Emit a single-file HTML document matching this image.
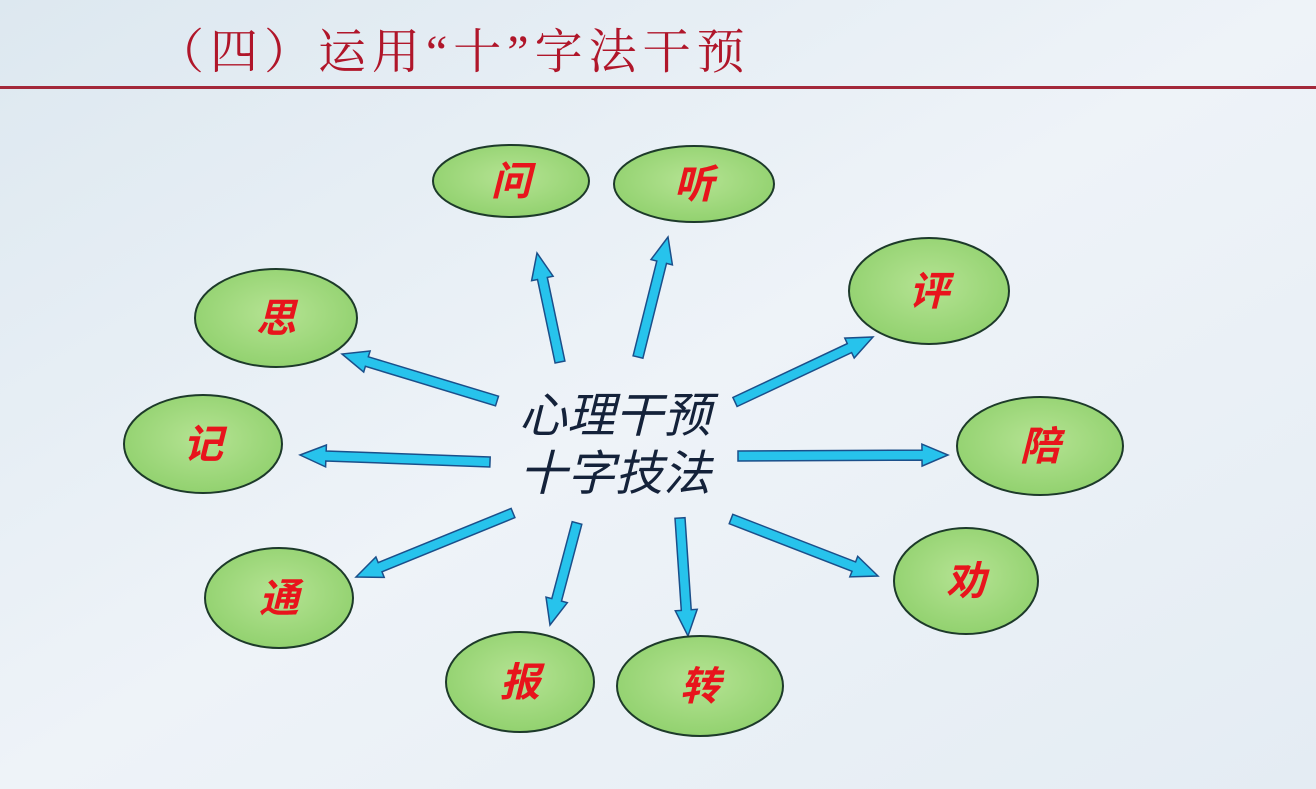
<!DOCTYPE html>
<html><head><meta charset="utf-8"><style>
html,body{margin:0;padding:0;width:1316px;height:789px;overflow:hidden;background:#e8eff6}
svg{display:block}
</style></head><body>
<svg id="s" width="1316" height="789" xmlns="http://www.w3.org/2000/svg">
<defs>
<linearGradient id="bg" x1="0" y1="0" x2="1" y2="1"><stop offset="0" stop-color="#dde8f0"/><stop offset="0.5" stop-color="#eef3f8"/><stop offset="1" stop-color="#e4ecf3"/></linearGradient>
<radialGradient id="g" cx="0.5" cy="0.45" r="0.6"><stop offset="0" stop-color="#b5e393"/><stop offset="1" stop-color="#8fd06c"/></radialGradient>
</defs>
<rect width="1316" height="789" fill="url(#bg)"/>
<text x="156" y="68" font-family="'Liberation Serif','Noto Serif CJK SC',serif" font-size="48" letter-spacing="6" fill="#b0162a">（四）运用“十”字法干预</text>
<rect x="0" y="86" width="1316" height="3" fill="#a3283a"/>
<g id="arrows"></g>
<g id="nodes" font-family="'Liberation Sans','Noto Sans CJK SC',sans-serif" font-size="40" font-style="italic" font-weight="bold" fill="#e8141c" text-anchor="middle"></g>
<g font-family="'Liberation Sans','Noto Sans CJK SC',sans-serif" font-size="48" font-style="italic" fill="#14223a" text-anchor="middle">
<text x="615" y="432">心理干预</text>
<text x="615" y="490">十字技法</text>
</g>
</svg>
<script>
var N=[["问",511,181,78,36],["听",694,184,80,38],["思",276,318,81,49],["评",929,291,80,53],["记",203,444,79,49],["陪",1040,446,83,49],["通",279,598,74,50],["劝",966,581,72,53],["报",520,682,74,50],["转",700,686,83,50]];
var A=[[560,362,537,253],[638,357,668,237],[497,401,342,354],[735,402,873,337],[490,462,300,455],[738,456,948,455],[513,513,356,577],[577,523,550,625],[680,518,688,636],[731,519,878,576]];
var ns="http://www.w3.org/2000/svg",g=document.getElementById("nodes"),ag=document.getElementById("arrows");
N.forEach(function(n){var e=document.createElementNS(ns,"ellipse");e.setAttribute("cx",n[1]);e.setAttribute("cy",n[2]);e.setAttribute("rx",n[3]);e.setAttribute("ry",n[4]);e.setAttribute("fill","url(#g)");e.setAttribute("stroke","#1d3a2a");e.setAttribute("stroke-width","2");g.appendChild(e);
var t=document.createElementNS(ns,"text");t.setAttribute("x",n[1]);t.setAttribute("y",n[2]+14);t.textContent=n[0];g.appendChild(t);});
A.forEach(function(a){var dx=a[2]-a[0],dy=a[3]-a[1],L=Math.hypot(dx,dy),ux=dx/L,uy=dy/L,px=-uy,py=ux,w=5,h=11,hl=26;
function P(d,o){return (a[0]+ux*d+px*o).toFixed(1)+","+(a[1]+uy*d+py*o).toFixed(1)}
var pts=[P(0,w),P(L-hl,w),P(L-hl,h),P(L,0),P(L-hl,-h),P(L-hl,-w),P(0,-w)].join(" ");
var p=document.createElementNS(ns,"polygon");p.setAttribute("points",pts);p.setAttribute("fill","#27c3ec");p.setAttribute("stroke","#1b4f8a");p.setAttribute("stroke-width","1.5");ag.appendChild(p);});
</script>
</body></html>
